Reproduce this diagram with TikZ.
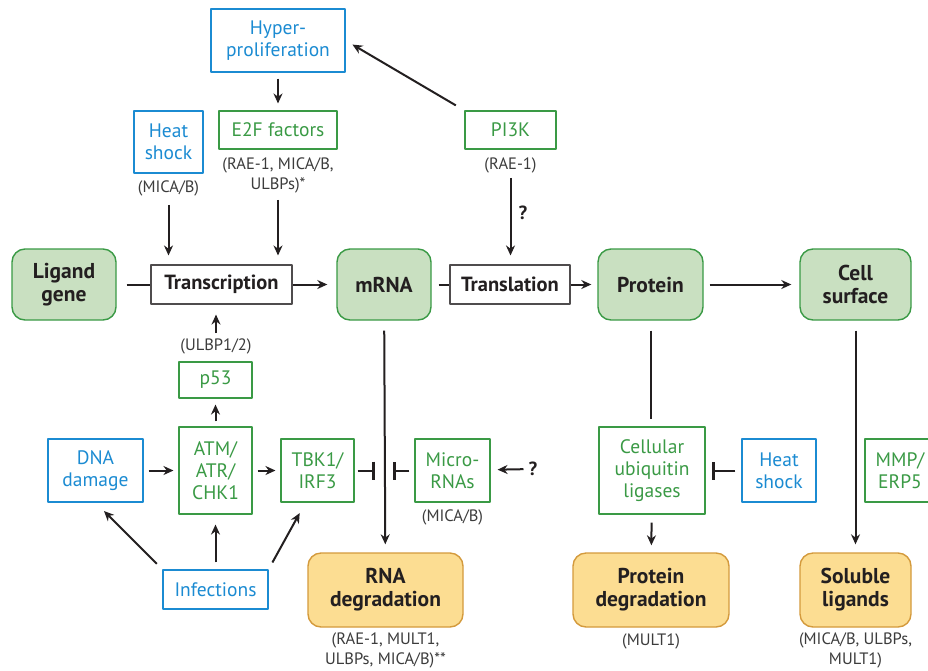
\documentclass[tikz,border=0pt]{standalone}
\usepackage{fontspec}
\setmainfont{PT Sans}
\usetikzlibrary{arrows.meta}
\definecolor{grnfill}{HTML}{C9E0C1}
\definecolor{grnline}{HTML}{3A9A45}
\definecolor{orfill}{HTML}{FCDD92}
\definecolor{orline}{HTML}{D49A3C}
\definecolor{bluetxt}{HTML}{1B8BD2}
\definecolor{ink}{HTML}{231F20}
\definecolor{lblgray}{HTML}{3C3C3C}
\tikzset{
  core/.style={draw=grnline, fill=grnfill, line width=1.4pt, rounded corners=13pt, inner sep=0pt,
    align=center, text=ink, font=\fontsize{21.5}{23}\selectfont\bfseries},
  deg/.style={core, draw=orline, fill=orfill},
  proc/.style={draw=ink!80, line width=1.1pt, fill=white, inner sep=0pt, text=ink,
    font=\fontsize{20.5}{22}\selectfont\bfseries},
  gbox/.style={draw=grnline, line width=1.1pt, text=grnline, inner sep=0pt, align=center,
    font=\fontsize{19.5}{22}\selectfont},
  bbox/.style={gbox, draw=bluetxt, text=bluetxt},
  lbl/.style={text=lblgray, align=center, inner sep=1pt, font=\fontsize{16.5}{20}\selectfont},
  qmark/.style={text=ink, inner sep=1pt, font=\fontsize{19}{20}\selectfont\bfseries},
  conn/.style={draw=ink, line width=2pt},
  inhib/.style={conn, -{Bar[width=18pt,line width=3pt]}}
}
\begin{document}
\begin{tikzpicture}[x=1pt, y=-1pt, line join=round, >={Stealth[length=10pt,width=9pt]}]
\clip (0,0) rectangle (928,670);
\fill[white] (0,0) rectangle (928,670);
% main row
\node[core, minimum width=104pt, minimum height=71pt] (gene) at (64,284.5) {Ligand\\gene};
\node[proc, minimum width=141pt, minimum height=39pt] (trans) at (221.5,284.5) {Transcription};
\node[core, minimum width=94pt, minimum height=71pt] (mrna) at (384,284.5) {mRNA};
\node[proc, minimum width=120pt, minimum height=39pt] (transl) at (510,284.5) {Translation};
\node[core, minimum width=105pt, minimum height=71pt] (prot) at (650.5,284.5) {Protein};
\node[core, minimum width=111pt, minimum height=71pt] (cell) at (855.5,284.5) {Cell\\surface};
% upper regulators
\node[bbox, minimum width=134pt, minimum height=63pt] (hyper) at (278,40.5) {Hyper-\\proliferation};
\node[gbox, minimum width=118pt, minimum height=38pt] (e2f) at (278,130) {E2F factors};
\node[lbl] (e2fl) at (278,175) {(RAE-1, MICA/B,\\ULBPs)*};
\node[bbox, minimum width=69pt, minimum height=62pt] (heat) at (168.5,142) {Heat\\shock};
\node[lbl] (heatl) at (168.5,188) {(MICA/B)};
\node[gbox, minimum width=91pt, minimum height=38pt] (pik) at (510.5,130) {PI3K};
\node[lbl] (pikl) at (510.5,165) {(RAE-1)};
\node[qmark] (q1) at (523,213) {?};
% lower left
\node[lbl] (ulbpl) at (216,346) {(ULBP1/2)};
\node[gbox, minimum width=73pt, minimum height=36pt] (p53) at (215.5,380) {p53};
\node[gbox, minimum width=73pt, minimum height=87pt] (atm) at (215.5,470.5) {ATM/\\ATR/\\CHK1};
\node[bbox, minimum width=95pt, minimum height=63pt] (dna) at (95.5,470.5) {DNA\\damage};
\node[gbox, minimum width=73pt, minimum height=63pt] (tbk) at (317.5,470.5) {TBK1/\\IRF3};
\node[gbox, minimum width=75pt, minimum height=63pt] (mirna) at (452.5,470.5) {Micro-\\RNAs};
\node[lbl] (mirnal) at (452.5,517) {(MICA/B)};
\node[qmark] (q2) at (533,469) {?};
\node[bbox, minimum width=105pt, minimum height=39pt] (inf) at (215.5,589.5) {Infections};
\node[deg, minimum width=155pt, minimum height=74pt] (rnadeg) at (385.5,590) {RNA\\degradation};
\node[lbl] (rnadegl) at (385.5,650) {(RAE-1, MULT1,\\ULBPs, MICA/B)**};
% lower right
\node[gbox, minimum width=106pt, minimum height=87pt] (ublig) at (652,470.5) {Cellular\\ubiquitin\\ligases};
\node[bbox, minimum width=74pt, minimum height=63pt] (heatb) at (779,470.5) {Heat\\shock};
\node[gbox, minimum width=70pt, minimum height=63pt] (mmp) at (900,470.5) {MMP/\\ERP5};
\node[deg, minimum width=156pt, minimum height=74pt] (protdeg) at (651,590) {Protein\\degradation};
\node[lbl] (protdegl) at (651,641) {(MULT1)};
\node[deg, minimum width=111pt, minimum height=74pt] (sol) at (855.5,590) {Soluble\\ligands};
\node[lbl] (soll) at (855.5,650) {(MICA/B, ULBPs,\\MULT1)};
% connectors
\draw[conn, ->, shorten <=6pt, shorten >=7pt] (hyper) -- (e2f);
\draw[conn, ->, shorten <=10pt, shorten >=8pt] (pik.north west) -- (hyper.east);
\draw[conn, ->, shorten <=8pt, shorten >=9pt] (heatl.south) -- (heatl.south |- trans.north);
\draw[conn, ->, shorten <=6pt, shorten >=9pt] (e2fl.south) -- (e2fl.south |- trans.north);
\draw[conn, ->, shorten <=4pt, shorten >=9pt] (pikl.south) -- (pikl.south |- transl.north);
\draw[conn, shorten <=10pt] (gene) -- (trans);
\draw[conn, ->, shorten >=9pt] (trans) -- (mrna);
\draw[conn, shorten <=7pt] (mrna) -- (transl);
\draw[conn, ->, shorten >=6pt] (transl) -- (prot);
\draw[conn, ->, shorten <=6pt, shorten >=8pt] (prot) -- (cell);
\draw[conn, ->, shorten <=4pt, shorten >=10pt] (ulbpl.north) -- (ulbpl.north |- trans.south);
\draw[conn, ->, shorten <=5pt, shorten >=6pt] (atm) -- (p53);
\draw[conn, ->, shorten <=5pt, shorten >=5pt] (dna) -- (atm);
\draw[conn, ->, shorten <=5pt, shorten >=5pt] (atm) -- (tbk);
\draw[conn, ->, shorten <=10pt, shorten >=8pt] (mrna) -- (rnadeg);
\draw[inhib, shorten <=3pt, shorten >=9pt] (tbk.east) -- (tbk.east -| mrna.south);
\draw[inhib, shorten <=5pt, shorten >=9pt] (mirna.west) -- (mirna.west -| mrna.south);
\draw[conn, ->, shorten <=4pt, shorten >=7pt] (q2) -- (mirna);
\draw[conn, ->, shorten <=8pt, shorten >=12pt] (inf.north west) -- (dna.south);
\draw[conn, ->, shorten <=7pt, shorten >=10pt] (inf) -- (atm);
\draw[conn, ->, shorten <=8pt, shorten >=12pt] (inf.north east) -- ([xshift=-12pt]tbk.south);
\draw[conn, shorten <=10pt, shorten >=7pt] (prot) -- (ublig.north -| prot.south);
\draw[conn, ->, shorten <=8pt, shorten >=7pt] (ublig) -- (protdeg);
\draw[inhib, shorten <=6pt, shorten >=6pt] (heatb) -- (ublig);
\draw[conn, ->, shorten <=10pt, shorten >=8pt] (cell) -- (sol);
\end{tikzpicture}
\end{document}
